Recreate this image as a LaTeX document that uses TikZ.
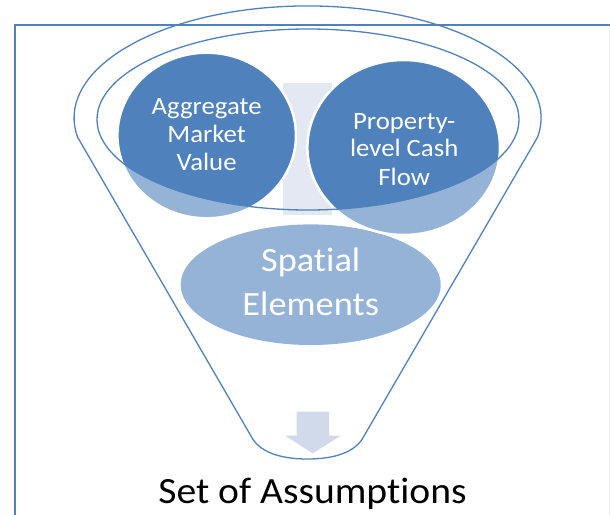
\documentclass[tikz,border=0pt]{standalone}
\usepackage{fontspec}
\setmainfont[FakeStretch=1.07, Ligatures=NoCommon]{Carlito}
\definecolor{dk}{HTML}{4F81BD}
\definecolor{lt}{HTML}{95B3D7}
\definecolor{arr}{HTML}{D0DAEA}
\definecolor{hg}{HTML}{E3E8F2}
\tikzset{
  outline/.style={draw=dk, line width=1.3pt},
  wtxt/.style={text=white, inner sep=0pt, anchor=base},
  btxt/.style={text=black, inner sep=0pt, anchor=base},
  ctxt/.style={wtxt, font=\fontsize{25}{28}\selectfont},
  stxt/.style={wtxt, font=\fontsize{34}{40}\selectfont},
}
\begin{document}
\begin{tikzpicture}[x=1pt,y=-1pt]
\useasboundingbox (0,0) rectangle (610,514);
% frame
\draw[dk, line width=1.8pt] (15,520) -- (15,25) -- (612,25);
\draw[black!8, line width=1pt] (609,26) -- (609,520);
% funnel outline
\draw[outline] (77.5,137) arc[start angle=170.2,end angle=369.8,x radius=233.5,y radius=112]
  -- (364,436) .. controls (356,452) and (335,459) .. (307.5,459)
  .. controls (280,459) and (259,452) .. (251,436) -- cycle;
% spatial elements
\fill[lt] (310.7,284.7) ellipse[x radius=130, y radius=60.3];
% hourglass background
\fill[hg] (283,83) rectangle (332,215);
% circles
\fill[lt] (206.7,135.5) ellipse[x radius=89.3, y radius=82.8];
\fill[lt] (403.7,147.5) ellipse[x radius=96.3, y radius=87.5];
\begin{scope}
  \clip (308,119.5) ellipse[x radius=211, y radius=90.5];
  \fill[dk] (206.7,135.5) ellipse[x radius=89.3, y radius=82.8];
  \fill[dk] (403.7,147.5) ellipse[x radius=96.3, y radius=87.5];
\end{scope}
\draw[white, line width=2.5pt] (206.7,135.5) ellipse[x radius=89.3, y radius=82.8];
\draw[white, line width=2.5pt] (403.7,147.5) ellipse[x radius=96.3, y radius=87.5];
% inner rim
\draw[outline] (308,119.5) ellipse[x radius=211, y radius=90.5];
% arrow
\fill[arr] (296.7,411.7) -- (329,411.7) -- (329,435.7) -- (340.7,435.7) -- (312.8,453.3)
  -- (285,435.7) -- (296.7,435.7) -- cycle;
% texts
\node[ctxt] (a1) at (206.6,114) {Aggregate};
\node[ctxt] (a2) at (206.6,142.3) {Market};
\node[ctxt] (a3) at (206.6,170.7) {Value};
\node[ctxt] (p1) at (404.2,129) {Property-};
\node[ctxt] (p2) at (404.2,156.7) {level Cash};
\node[ctxt] (p3) at (404.2,185.7) {Flow};
\node[stxt] (s1) at (310.7,271.7) {Spatial};
\node[stxt] (s2) at (310.7,315) {Elements};
\node[btxt, font=\fontsize{37}{42}\selectfont] (t1) at (312.5,503) {Set of Assumptions};
\end{tikzpicture}
\end{document}
